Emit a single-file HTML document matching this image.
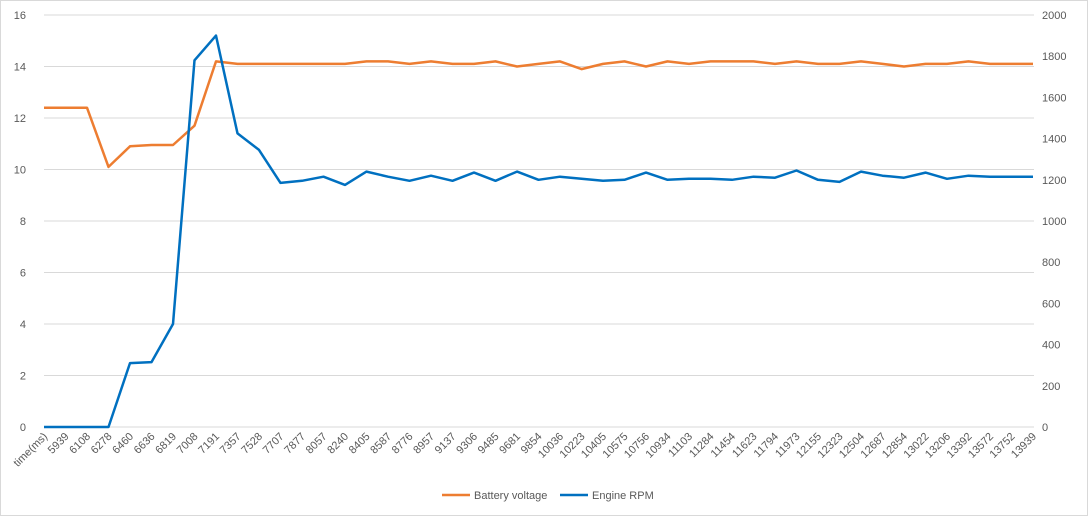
<!DOCTYPE html>
<html><head><meta charset="utf-8"><style>
html,body{margin:0;padding:0;background:#fff;}
svg{display:block;font-family:"Liberation Sans",sans-serif;}
</style></head><body>
<svg id="c" width="1088" height="516" viewBox="0 0 1088 516" xmlns="http://www.w3.org/2000/svg">
<rect x="0.5" y="0.5" width="1087" height="515" fill="#fff" stroke="#d9d9d9"/>
<g id="g"></g>
</svg>
<script>
var labels="time(ms),5939,6108,6278,6460,6636,6819,7008,7191,7357,7528,7707,7877,8057,8240,8405,8587,8776,8957,9137,9306,9485,9681,9854,10036,10223,10405,10575,10756,10934,11103,11284,11454,11623,11794,11973,12155,12323,12504,12687,12854,13022,13206,13392,13572,13752,13939".split(",");
var bat=[12.4,12.4,12.4,10.1,10.9,10.95,10.95,11.7,14.2,14.1,14.1,14.1,14.1,14.1,14.1,14.2,14.2,14.1,14.2,14.1,14.1,14.2,14.0,14.1,14.2,13.9,14.1,14.2,14.0,14.2,14.1,14.2,14.2,14.2,14.1,14.2,14.1,14.1,14.2,14.1,14.0,14.1,14.1,14.2,14.1,14.1,14.1];
var rpm=[0,0,0,0,310,315,500,1780,1900,1425,1345,1185,1195,1215,1175,1240,1215,1195,1220,1195,1235,1195,1240,1200,1215,1205,1195,1200,1235,1200,1205,1205,1200,1215,1210,1245,1200,1190,1240,1220,1210,1235,1205,1220,1215,1215,1215];
var x0=44,dx=21.5,y0=427,yt=15,h=y0-yt,s="";
for(var v=0;v<=16;v+=2){var y=y0-v/16*h;
 s+='<line x1="'+x0+'" x2="1034" y1="'+y+'" y2="'+y+'" stroke="#d9d9d9"/>';
 s+='<text x="26" y="'+(y+4)+'" font-size="11" fill="#595959" text-anchor="end">'+v+'</text>';}
for(var r=0;r<=2000;r+=200){var y=y0-r/2000*h;
 s+='<text x="1042" y="'+(y+4)+'" font-size="11" fill="#595959">'+r+'</text>';}
labels.forEach(function(l,i){var x=x0+i*dx;
 s+='<text transform="translate('+(x+4)+',437) rotate(-45)" font-size="11" fill="#595959" text-anchor="end">'+l+'</text>';});
function pl(d,mx,c){return '<polyline fill="none" stroke="'+c+'" stroke-width="2.5" stroke-linejoin="round" points="'+d.map(function(v,i){return (x0+i*dx)+','+(y0-v/mx*h).toFixed(1)}).join(' ')+'"/>';}
s+=pl(bat,16,'#ed7d31');
s+=pl(rpm,2000,'#0070c0');
s+='<line x1="442" x2="470" y1="495" y2="495" stroke="#ed7d31" stroke-width="2.5"/><text x="474" y="499" font-size="11" fill="#595959">Battery voltage</text>';
s+='<line x1="560" x2="588" y1="495" y2="495" stroke="#0070c0" stroke-width="2.5"/><text x="592" y="499" font-size="11" fill="#595959">Engine RPM</text>';
document.getElementById('g').innerHTML=s;
</script>
</body></html>
